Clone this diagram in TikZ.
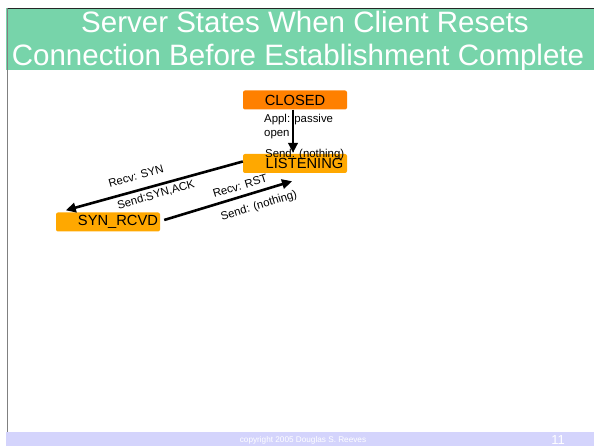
\documentclass[tikz,border=0pt]{standalone}
\usepackage{fontspec}
\setmainfont{Liberation Sans}
\usetikzlibrary{arrows.meta}
\definecolor{titlegreen}{RGB}{119,212,170}
\definecolor{footblue}{RGB}{212,212,252}
\definecolor{closedorange}{RGB}{255,128,0}
\definecolor{stateorange}{RGB}{255,168,0}

\begin{document}
\begin{tikzpicture}[x=1pt,y=-1pt]
	% styles for states, transitions and their labels
	\tikzset{state/.style={rectangle,rounded corners=2pt,minimum width=104pt,minimum height=19pt,inner sep=0pt,font=\fontsize{14.7}{16}\selectfont}}
	\tikzset{trans/.style={line width=2.6pt,-{Triangle[length=10pt,width=9.5pt]}}}
	\tikzset{lbl/.style={inner sep=0pt,font=\fontsize{11.4}{13}\selectfont}}
	
	% Draw the slide frame
	\useasboundingbox (0,0) rectangle (594,446);
	\fill[white] (0,0) rectangle (594,446);
	\fill[titlegreen] (6,8) rectangle (594,70);
	\fill[footblue] (6,432) rectangle (594,446);
	\draw[black!85,line width=0.7pt] (7,8.5) -- (594,8.5);
	\draw[gray,line width=1.5pt] (7.5,8) -- (7.5,432);
	
	% title
	\node[white,anchor=base,font=\fontsize{29.5}{33}\selectfont] (title1) at (305,33) {Server States When Client Resets};
	\node[white,anchor=base,font=\fontsize{29.5}{33}\selectfont] (title2) at (298,66) {Connection Before Establishment Complete};
	
	% the states
	\node[state,fill=closedorange] (closed) at (295,100) {CLOSED};
	\node[state,fill=stateorange] (listen) at (295,163.5) {\hspace*{19pt}LISTENING};
	\node[state,fill=stateorange] (synrcvd) at (108,222) {\hspace*{20pt}SYN\_RCVD};
	
	% transitions
	\coordinate (synin) at ([shift={(10pt,2pt)}]synrcvd.north west);
	\coordinate (listenin) at ([shift={(-3pt,-8pt)}]listen.south);
	\draw[trans] ([xshift=-2pt]closed.south) -- ([shift={(-2pt,1pt)}]listen.north);
	\draw[trans] ([yshift=2pt]listen.west) -- (synin);
	\draw[trans] ([shift={(4pt,2pt)}]synrcvd.east) -- (listenin);
	
	% draw label
	\node[lbl,anchor=west] (appl) at (264,120) {Appl: passive};
	\node[lbl,anchor=west] (open) at (264,135) {open};
	\node[lbl,anchor=west] (sendlisten) at (265,155) {Send: (nothing)};
	\node[lbl,rotate=16] (recvsyn) at (136,176) {Recv: SYN};
	\node[lbl,rotate=16] (sendsynack) at (156,195) {Send:SYN,ACK};
	\node[lbl,rotate=17] (recvrst) at (240,186) {Recv: RST};
	\node[lbl,rotate=17] (sendnone) at (259,206) {Send: (nothing)};
	
	% footer
	\node[white,anchor=base,font=\fontsize{8.2}{10}\selectfont] (copyr) at (303,442) {copyright 2005 Douglas S. Reeves};
	\node[white,anchor=base,font=\fontsize{13}{15}\selectfont] (pagenum) at (558,444) {11};
\end{tikzpicture}
\end{document}
